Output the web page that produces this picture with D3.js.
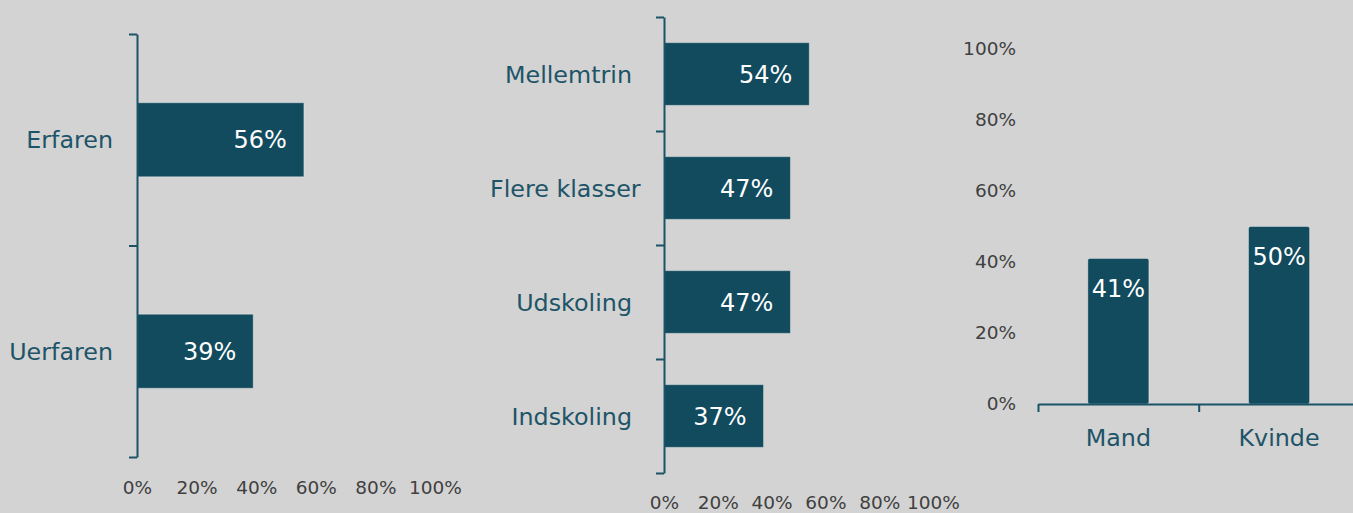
<!DOCTYPE html>
<html>
<head>
<meta charset="utf-8">
<script src="https://cdn.jsdelivr.net/npm/d3@7"></script>
<style>
  body { margin: 0; background: #d3d3d3; }
  svg { display: block; font-family: "DejaVu Sans", Verdana, sans-serif; }
</style>
</head>
<body>
<div id="chart"></div>
<script>
// data
var expCategories = ["Erfaren", "Uerfaren"];
var expValues = [56, 39];

var levelCategories = ["Mellemtrin", "Flere klasser", "Udskoling", "Indskoling"];
var levelValues = [54, 47, 47, 37];

var genderCategories = ["Mand", "Kvinde"];
var genderValues = [41, 50];

var pctTicks = [0, 20, 40, 60, 80, 100];

var barColor = "#124b5e";
var axisColor = "#1a5266";
var catColor = "#1e5468";
var tickColor = "#404040";

var svg = d3.select("#chart")
    .append("svg")
    .attr("width", 1353)
    .attr("height", 513);

// horizontal bar chart helper
function hBars(opt) {
    var g = svg.append("g");
    var n = opt.cats.length;

    var x = d3.scaleLinear().domain([0, 100]).range([opt.x0, opt.x1]);
    var y = d3.scaleBand()
        .domain(opt.cats)
        .range([opt.y0, opt.y1])
        .paddingInner(opt.pad)
        .paddingOuter(opt.pad / 2);
    var yEdges = d3.scaleLinear().domain([0, n]).range([opt.y0, opt.y1]);

    // bars
    g.selectAll("rect")
        .data(opt.vals)
        .enter()
        .append("rect")
        .attr("x", x(0))
        .attr("y", (d, i) => y(opt.cats[i]))
        .attr("width", d => x(d) - x(0))
        .attr("height", y.bandwidth())
        .attr("fill", barColor)
        .attr("stroke", "rgba(255,255,255,0.35)")
        .attr("stroke-width", 1);

    // value labels
    g.selectAll(".val")
        .data(opt.vals)
        .enter()
        .append("text")
        .attr("class", "val")
        .attr("x", d => x(d) - 17)
        .attr("y", (d, i) => y(opt.cats[i]) + y.bandwidth() / 2)
        .attr("dy", "0.36em")
        .attr("text-anchor", "end")
        .attr("fill", "#ffffff")
        .style("font-size", "24px")
        .text(d => d + "%");

    // category axis, ticks between bands
    var leftAxis = d3.axisLeft(yEdges)
        .tickValues(d3.range(n + 1))
        .tickFormat("")
        .tickSize(8)
        .tickSizeOuter(0);
    var ax = g.append("g")
        .attr("transform", `translate(${x(0)},0)`)
        .call(leftAxis);
    ax.selectAll("path, line").attr("stroke", axisColor).attr("stroke-width", 2);

    // category labels
    g.selectAll(".cat")
        .data(opt.cats)
        .enter()
        .append("text")
        .attr("class", "cat")
        .attr("y", d => y(d) + y.bandwidth() / 2)
        .attr("dy", "0.36em")
        .attr("text-anchor", "end")
        .attr("fill", catColor)
        .style("font-size", "23.8px")
        .text(d => d)
        .attr("x", function () {
            var w = this.getComputedTextLength();
            return Math.max(opt.labelRight, opt.labelLeft + w);
        });

    // value axis labels
    var bottomAxis = d3.axisBottom(x)
        .tickValues(pctTicks)
        .tickFormat(d => d + "%")
        .tickSize(0)
        .tickPadding(opt.tickPad);
    var bx = g.append("g")
        .attr("transform", `translate(0,${opt.y1})`)
        .call(bottomAxis);
    bx.select(".domain").remove();
    bx.selectAll("text")
        .attr("fill", tickColor)
        .style("font-size", "18.5px")
        .style("font-family", "\"DejaVu Sans\", Verdana, sans-serif");
}

hBars({
    cats: expCategories, vals: expValues,
    x0: 137, x1: 435, y0: 34, y1: 457, pad: 0.65,
    labelRight: 113, labelLeft: 0, tickPad: 24
});

hBars({
    cats: levelCategories, vals: levelValues,
    x0: 664, x1: 933, y0: 17, y1: 473, pad: 0.45,
    labelRight: 632, labelLeft: 490, tickPad: 23
});

// vertical bar chart
(function () {
    var g = svg.append("g");
    var x = d3.scaleBand()
        .domain(genderCategories)
        .range([1038, 1359.4])
        .paddingInner(0.62)
        .paddingOuter(0.31);
    var y = d3.scaleLinear().domain([0, 100]).range([404, 49]);
    var xEdges = d3.scaleLinear().domain([0, genderCategories.length]).range([1038, 1359.4]);

    g.selectAll("rect")
        .data(genderValues)
        .enter()
        .append("rect")
        .attr("x", (d, i) => x(genderCategories[i]))
        .attr("y", d => y(d))
        .attr("width", x.bandwidth())
        .attr("height", d => y(0) - y(d))
        .attr("rx", 2)
        .attr("fill", barColor)
        .attr("stroke", "rgba(255,255,255,0.35)")
        .attr("stroke-width", 1);

    g.selectAll(".val")
        .data(genderValues)
        .enter()
        .append("text")
        .attr("class", "val")
        .attr("x", (d, i) => x(genderCategories[i]) + x.bandwidth() / 2)
        .attr("y", d => y(d) + 30)
        .attr("dy", "0.36em")
        .attr("text-anchor", "middle")
        .attr("fill", "#ffffff")
        .style("font-size", "24px")
        .text(d => d + "%");

    var bottomAxis = d3.axisBottom(xEdges)
        .tickValues(d3.range(genderCategories.length + 1))
        .tickFormat("")
        .tickSize(8)
        .tickSizeOuter(0);
    var bx = g.append("g")
        .attr("transform", `translate(0,${y(0)})`)
        .call(bottomAxis);
    bx.selectAll("path, line").attr("stroke", axisColor).attr("stroke-width", 2);

    g.selectAll(".cat")
        .data(genderCategories)
        .enter()
        .append("text")
        .attr("class", "cat")
        .attr("x", d => x(d) + x.bandwidth() / 2)
        .attr("y", 437)
        .attr("dy", "0.36em")
        .attr("text-anchor", "middle")
        .attr("fill", catColor)
        .style("font-size", "23.8px")
        .text(d => d);

    var leftAxis = d3.axisLeft(y)
        .tickValues(pctTicks)
        .tickFormat(d => d + "%")
        .tickSize(0)
        .tickPadding(22);
    var ly = g.append("g")
        .attr("transform", "translate(1038,0)")
        .call(leftAxis);
    ly.select(".domain").remove();
    ly.selectAll("text")
        .attr("fill", tickColor)
        .style("font-size", "18.5px")
        .style("font-family", "\"DejaVu Sans\", Verdana, sans-serif");
})();
</script>
</body>
</html>
